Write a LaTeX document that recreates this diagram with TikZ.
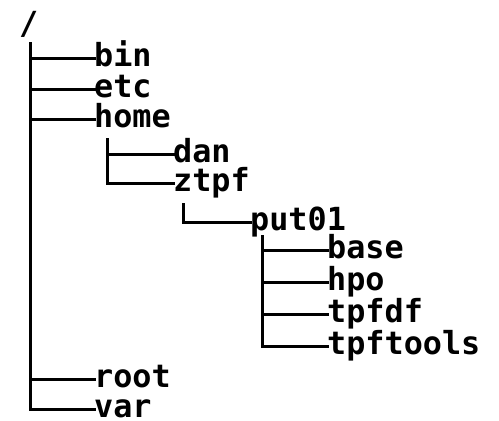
\documentclass[tikz,border=0pt]{standalone}
\usepackage{fontspec}
\newfontfamily\treefont{DejaVu Sans Mono}
\begin{document}
\begin{tikzpicture}[x=1pt,y=-1pt,
  entry/.style={anchor=base west,inner sep=0pt,text depth=0pt,font=\treefont\bfseries\fontsize{31.8}{31.8}\selectfont},
  branch/.style={draw=black,line width=3pt,line cap=rect}]
\useasboundingbox (0,0) rectangle (499,421);
\node[entry] (slash) at (19,34) {/};
\node[entry] (bin) at (94,66.5) {bin};
\node[entry] (etc) at (94,97.5) {etc};
\node[entry] (home) at (94,127.5) {home};
\node[entry] (dan) at (173,162.5) {dan};
\node[entry] (ztpf) at (173,191.5) {ztpf};
\node[entry] (put) at (250,230.5) {put01};
\node[entry] (base) at (327,258.5) {base};
\node[entry] (hpo) at (327,290.5) {hpo};
\node[entry] (tpfdf) at (327,322.5) {tpfdf};
\node[entry] (tpftools) at (327,354.5) {tpftools};
\node[entry] (root) at (94,387.5) {root};
\node[entry] (var) at (94,417.5) {var};
\coordinate (t0) at (30,43);
\coordinate (t1) at (107,139);
\coordinate (t2) at (183,204);
\coordinate (t3) at (262,236);
\foreach \c in {bin,etc,home,root,var} \draw[branch] (t0) |- ([yshift=8.5pt]\c.base west);
\foreach \c in {dan,ztpf} \draw[branch] (t1) |- ([yshift=8.5pt]\c.base west);
\draw[branch] (t2) |- ([yshift=8.5pt]put.base west);
\foreach \c in {base,hpo,tpfdf,tpftools} \draw[branch] (t3) |- ([yshift=8.5pt]\c.base west);
\end{tikzpicture}
\end{document}
